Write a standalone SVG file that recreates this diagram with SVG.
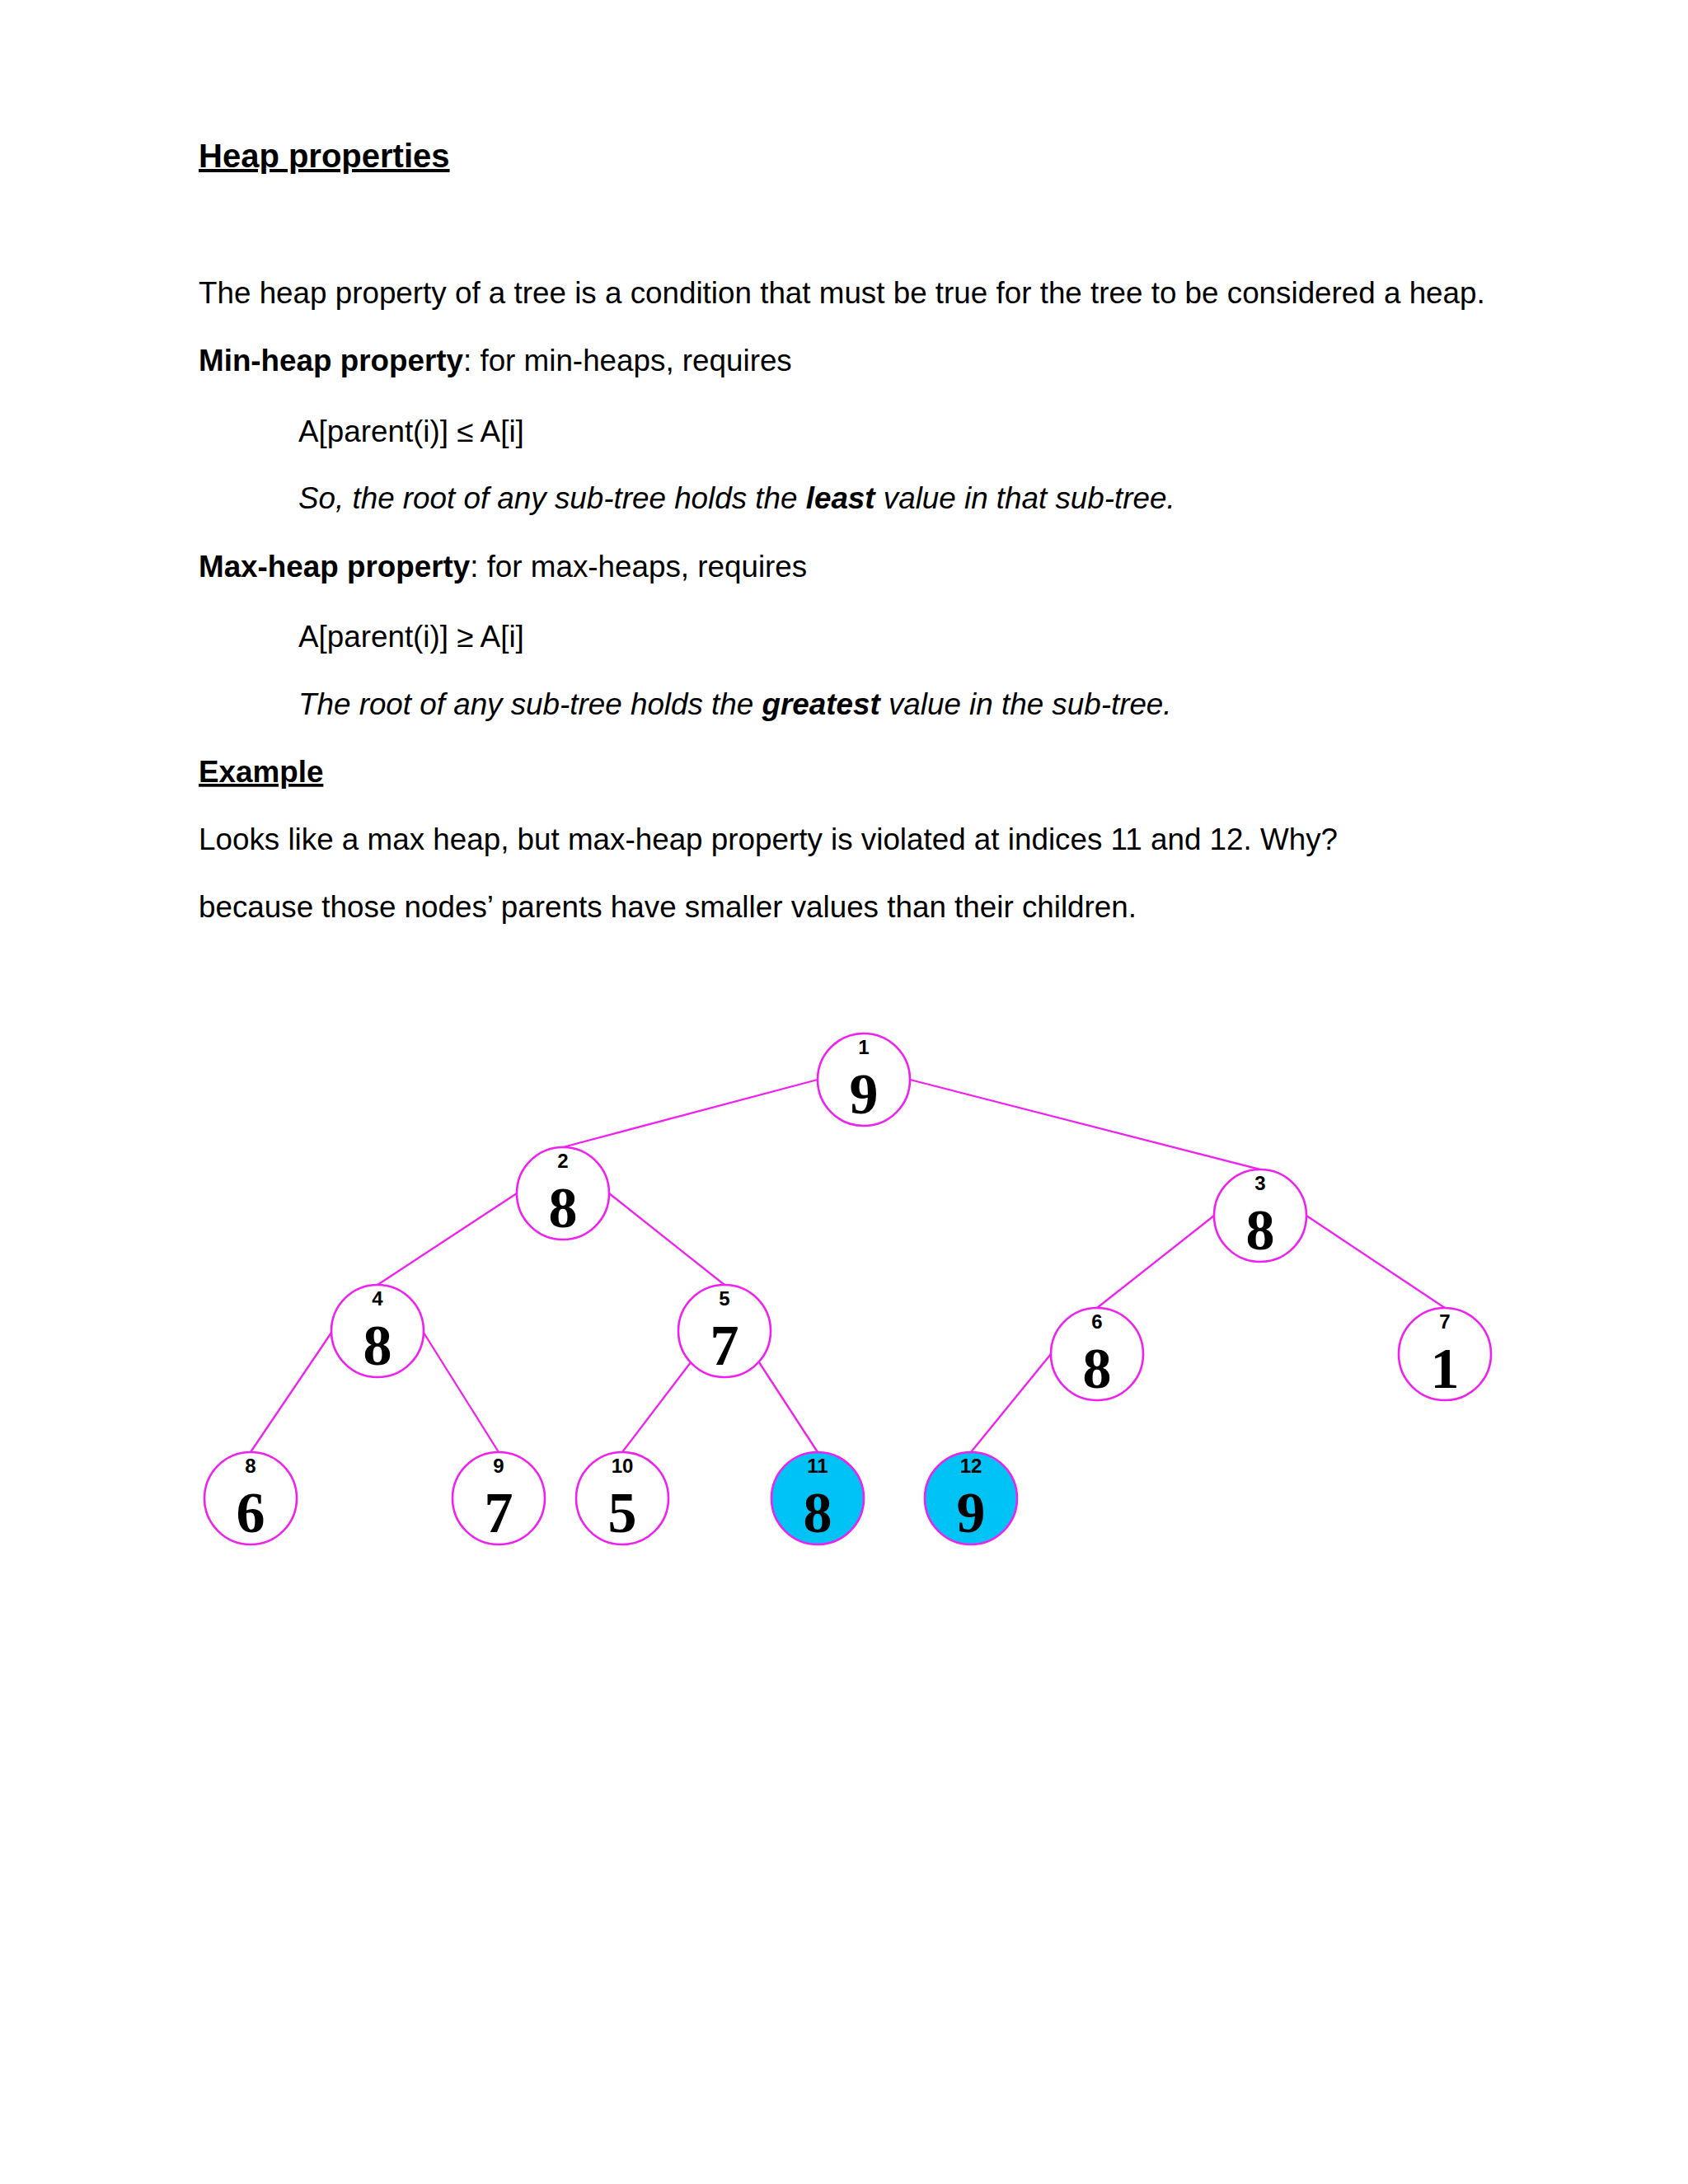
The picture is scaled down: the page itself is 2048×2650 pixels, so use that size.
<svg xmlns="http://www.w3.org/2000/svg" width="2048" height="2650" viewBox="0 0 2048 2650">
<style>
.t{font-family:"Liberation Sans",Arial,sans-serif;font-size:36.8px;fill:#000}
.b{font-weight:bold}
.i{font-style:italic}
.h{font-family:"Liberation Sans",Arial,sans-serif;font-weight:bold;fill:#000;text-decoration:underline}
.edge{stroke:#F020F0;stroke-width:2.3;fill:none}
.node{stroke:#F020F0;stroke-width:2.6;fill:#fff}
.hot{fill:#00C3F5}
.idx{font-family:"Liberation Sans",Arial,sans-serif;font-weight:bold;font-size:24px;text-anchor:middle;fill:#000}
.val{font-family:"Liberation Serif","Times New Roman",serif;font-weight:bold;font-size:70px;text-anchor:middle;fill:#000}
</style>
<rect width="2048" height="2650" fill="#fff"/>
<g id="text">
<text class="h" x="241" y="203" font-size="40">Heap properties</text>
<text class="t" x="241" y="368">The heap property of a tree is a condition that must be true for the tree to be considered a heap.</text>
<text class="t" x="241" y="450"><tspan class="b">Min-heap property</tspan>: for min-heaps, requires</text>
<text class="t" x="362" y="536">A[parent(i)] ≤ A[i]</text>
<text class="t i" x="362" y="617">So, the root of any sub-tree holds the <tspan class="b">least</tspan> value in that sub-tree.</text>
<text class="t" x="241" y="700"><tspan class="b">Max-heap property</tspan>: for max-heaps, requires</text>
<text class="t" x="362" y="785">A[parent(i)] ≥ A[i]</text>
<text class="t i" x="362" y="867">The root of any sub-tree holds the <tspan class="b">greatest</tspan> value in the sub-tree.</text>
<text class="h" x="241" y="949" font-size="36.8">Example</text>
<text class="t" x="241" y="1031">Looks like a max heap, but max-heap property is violated at indices 11 and 12. Why?</text>
<text class="t" x="241" y="1113">because those nodes’ parents have smaller values than their children.</text>
</g>
<g id="connectors">
<line class="edge" x1="992" y1="1310" x2="683" y2="1392"/>
<line class="edge" x1="1104" y1="1310" x2="1529" y2="1419"/>
<line class="edge" x1="627" y1="1448" x2="458" y2="1559"/>
<line class="edge" x1="739" y1="1448" x2="879" y2="1559"/>
<line class="edge" x1="1473" y1="1475" x2="1331" y2="1587"/>
<line class="edge" x1="1585" y1="1475" x2="1753" y2="1587"/>
<line class="edge" x1="402" y1="1617" x2="304" y2="1762"/>
<line class="edge" x1="514" y1="1617" x2="605" y2="1762"/>
<line class="edge" x1="838" y1="1653" x2="755" y2="1762"/>
<line class="edge" x1="921" y1="1653" x2="992" y2="1762"/>
<line class="edge" x1="1275" y1="1643" x2="1178" y2="1762"/>
</g>
<g id="node1"><circle class="node" cx="1048" cy="1310" r="56"/><text class="idx" x="1048" y="1279">1</text><text class="val" x="1048" y="1351">9</text></g>
<g id="node2"><circle class="node" cx="683" cy="1448" r="56"/><text class="idx" x="683" y="1417">2</text><text class="val" x="683" y="1489">8</text></g>
<g id="node3"><circle class="node" cx="1529" cy="1475" r="56"/><text class="idx" x="1529" y="1444">3</text><text class="val" x="1529" y="1516">8</text></g>
<g id="node4"><circle class="node" cx="458" cy="1615" r="56"/><text class="idx" x="458" y="1584">4</text><text class="val" x="458" y="1656">8</text></g>
<g id="node5"><circle class="node" cx="879" cy="1615" r="56"/><text class="idx" x="879" y="1584">5</text><text class="val" x="879" y="1656">7</text></g>
<g id="node6"><circle class="node" cx="1331" cy="1643" r="56"/><text class="idx" x="1331" y="1612">6</text><text class="val" x="1331" y="1684">8</text></g>
<g id="node7"><circle class="node" cx="1753" cy="1643" r="56"/><text class="idx" x="1753" y="1612">7</text><text class="val" x="1753" y="1684">1</text></g>
<g id="node8"><circle class="node" cx="304" cy="1818" r="56"/><text class="idx" x="304" y="1787">8</text><text class="val" x="304" y="1859">6</text></g>
<g id="node9"><circle class="node" cx="605" cy="1818" r="56"/><text class="idx" x="605" y="1787">9</text><text class="val" x="605" y="1859">7</text></g>
<g id="node10"><circle class="node" cx="755" cy="1818" r="56"/><text class="idx" x="755" y="1787">10</text><text class="val" x="755" y="1859">5</text></g>
<g id="node11"><circle class="node hot" cx="992" cy="1818" r="56"/><text class="idx" x="992" y="1787">11</text><text class="val" x="992" y="1859">8</text></g>
<g id="node12"><circle class="node hot" cx="1178" cy="1818" r="56"/><text class="idx" x="1178" y="1787">12</text><text class="val" x="1178" y="1859">9</text></g>
</svg>
